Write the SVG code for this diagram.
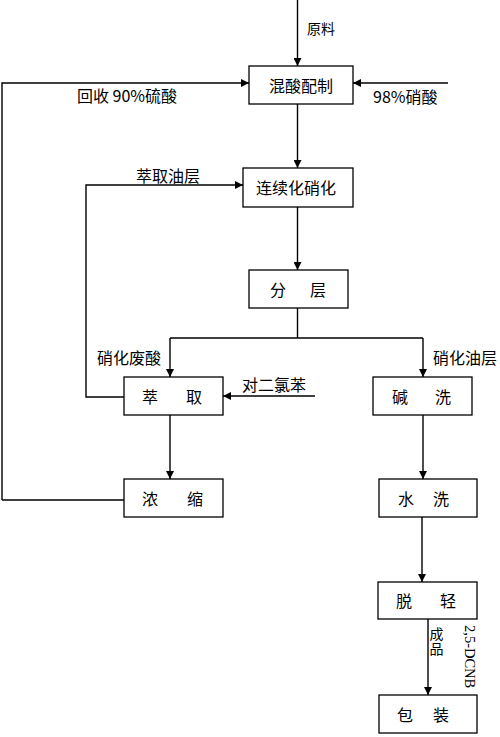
<svg xmlns="http://www.w3.org/2000/svg" width="500" height="737" viewBox="0 0 500 737">
<style>
.box{fill:#fff;stroke:#000;stroke-width:1.3}
.ln{fill:none;stroke:#000;stroke-width:1.4}
.t{font-family:"Noto Sans CJK SC","Liberation Sans",sans-serif;font-size:16px;fill:#000;dominant-baseline:central}
.s{font-family:"Noto Sans CJK SC","Liberation Sans",sans-serif;font-size:14px;fill:#000;dominant-baseline:central}
.c{text-anchor:middle}
</style>
<defs>
<marker id="ah" viewBox="0 0 10 10" refX="10" refY="5" markerWidth="8" markerHeight="8" markerUnits="userSpaceOnUse" orient="auto"><path d="M0,0L10,5L0,10z" fill="#000"/></marker>
</defs>
<rect width="500" height="737" fill="#fff"/>
<g id="connectors">
<path class="ln" d="M297.5,0V66" marker-end="url(#ah)"/>
<path class="ln" d="M2,500V83H249" marker-end="url(#ah)"/>
<path class="ln" d="M448,83H353" marker-end="url(#ah)"/>
<path class="ln" d="M297.5,104V168" marker-end="url(#ah)"/>
<path class="ln" d="M124,397H86V185H243" marker-end="url(#ah)"/>
<path class="ln" d="M297.5,207V270" marker-end="url(#ah)"/>
<path class="ln" d="M297.5,308V338"/>
<path class="ln" d="M170,338H423"/>
<path class="ln" d="M170,338V377" marker-end="url(#ah)"/>
<path class="ln" d="M423,338V377" marker-end="url(#ah)"/>
<path class="ln" d="M315,396H223" marker-end="url(#ah)"/>
<path class="ln" d="M170,415V479" marker-end="url(#ah)"/>
<path class="ln" d="M124,500H2"/>
<path class="ln" d="M423,415V479" marker-end="url(#ah)"/>
<path class="ln" d="M422,517V582" marker-end="url(#ah)"/>
<path class="ln" d="M428,619V695" marker-end="url(#ah)"/>
</g>
<g id="labels">
<text class="s" x="307" y="28">原料</text>
<text class="t" x="77" y="95">回收 90%硫酸</text>
<text class="t" x="373" y="96">98%硝酸</text>
<text class="t" x="136" y="175">萃取油层</text>
<text class="t" x="97" y="357">硝化废酸</text>
<text class="t" x="433" y="357">硝化油层</text>
<text class="t" x="242" y="384">对二氯苯</text>
<text x="436.5" y="627" writing-mode="vertical-rl" font-family="Noto Sans CJK SC,sans-serif" font-size="14" letter-spacing="1">成品</text>
<text x="470" y="625" transform="rotate(90 470 625)" font-family="Liberation Serif,serif" font-size="14.5" dominant-baseline="central">2,5-DCNB</text>
</g>
<g id="n1"><rect class="box" x="249" y="66" width="104" height="38"/><text class="t c" x="301" y="85">混酸配制</text></g>
<g id="n2"><rect class="box" x="243" y="168" width="110" height="39"/><text class="t c" x="296" y="187">连续化硝化</text></g>
<g id="n3"><rect class="box" x="249" y="270" width="99" height="38"/><text class="t c" y="289"><tspan x="278">分</tspan><tspan x="318">层</tspan></text></g>
<g id="n4"><rect class="box" x="124" y="377" width="99" height="38"/><text class="t c" y="396"><tspan x="150">萃</tspan><tspan x="194">取</tspan></text></g>
<g id="n5"><rect class="box" x="373" y="377" width="99" height="38"/><text class="t c" y="396"><tspan x="400">碱</tspan><tspan x="443">洗</tspan></text></g>
<g id="n6"><rect class="box" x="124" y="479" width="99" height="38"/><text class="t c" y="498"><tspan x="150">浓</tspan><tspan x="195">缩</tspan></text></g>
<g id="n7"><rect class="box" x="379" y="479" width="98" height="38"/><text class="t c" y="498"><tspan x="406">水</tspan><tspan x="441">洗</tspan></text></g>
<g id="n8"><rect class="box" x="378" y="582" width="99" height="37"/><text class="t c" y="600"><tspan x="404">脱</tspan><tspan x="448">轻</tspan></text></g>
<g id="n9"><rect class="box" x="379" y="695" width="98" height="38"/><text class="t c" y="714"><tspan x="405">包</tspan><tspan x="441">装</tspan></text></g>
</svg>
